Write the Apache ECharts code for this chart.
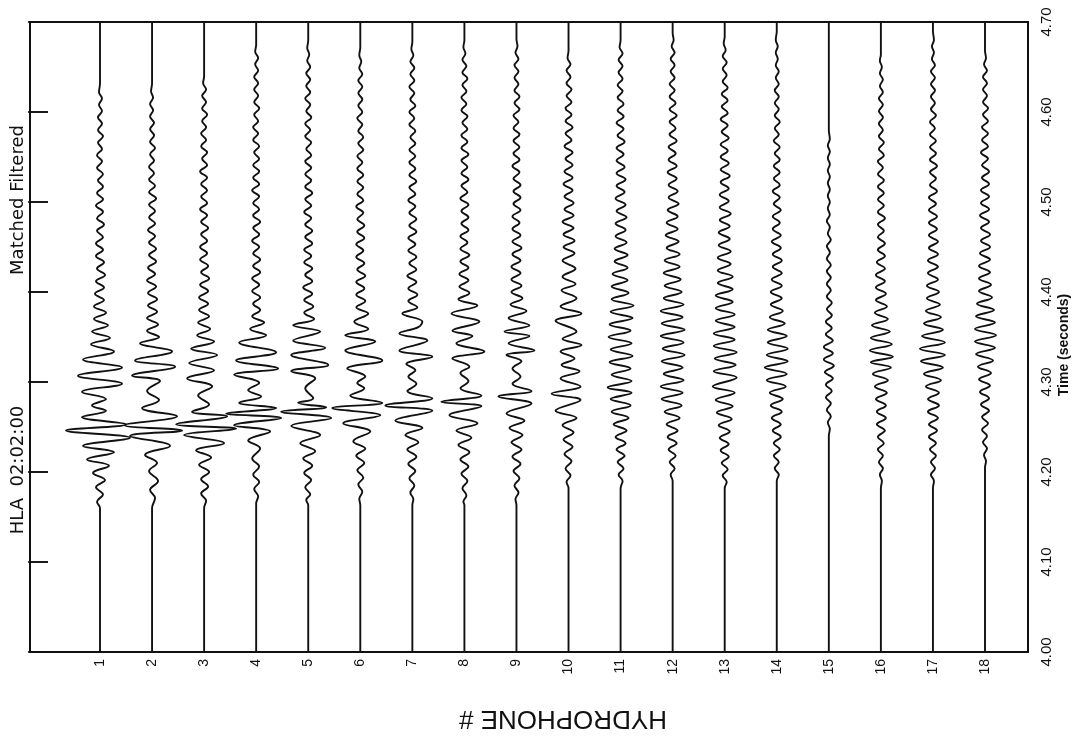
<!DOCTYPE html>
<html><head><meta charset="utf-8">
<script src="https://cdn.jsdelivr.net/npm/echarts@6/dist/echarts.min.js"></script>
<style>html,body{margin:0;padding:0;background:#fff}#c{width:1075px;height:736px}</style>
</head><body><div id="c"></div>
<script>
// Hydrophone numbers (trace positions)
const hydrophones = [1,2,3,4,5,6,7,8,9,10,11,12,13,14,15,16,17,18];
// Time axis (seconds)
const timeMin = 4.00, timeMax = 4.70, timeStep = 0.10;
// Each trace: flat list of [ms after 4.000 s, deflection] read at the wiggle extrema
const trace1 = [160,0, 167,-3, 175,3, 183,-4, 191,5, 199,-7, 207,9, 214,-13, 222,14, 229,-17, 238,30, 246,-34, 253,26, 261,-18, 268,6, 274,-8, 281,6, 289,-18, 298,22, 307,-22, 316,22, 325,-17, 334,14, 342,-9, 349,10, 356,-8, 363,8, 370,-6, 377,6, 384,-6, 391,4, 398,-5, 405,4, 412,-4, 419,5, 426,-3, 433,4, 440,-4, 447,3, 454,-4, 461,3, 468,-3, 475,4, 482,-3, 489,3, 496,-4, 503,3, 510,-3, 517,3, 524,-2, 531,3, 538,-3, 545,2, 552,-3, 559,2, 566,-2, 573,3, 580,-2, 587,2, 594,-2, 601,2, 608,-1, 615,2, 622,-1, 632,0];
const trace2 = [160,0, 171,3, 180,-2, 190,6, 201,-3, 210,5, 219,-7, 229,18, 240,-22, 246,30, 252,-27, 262,25, 271,-10, 280,7, 290,-5, 301,8, 307,-20, 317,23, 324,-17, 334,20, 343,-12, 350,7, 357,-5, 364,6, 371,-5, 378,5, 385,-4, 392,5, 399,-4, 406,4, 413,-5, 420,3, 427,-4, 434,4, 441,-3, 448,4, 455,-3, 462,3, 469,-4, 476,3, 483,-3, 490,3, 497,-3, 504,4, 511,-3, 518,3, 525,-3, 532,2, 539,-3, 546,2, 553,-2, 560,3, 567,-2, 574,2, 581,-2, 588,2, 595,-2, 602,1, 609,-2, 616,1, 623,-1, 632,0];
const trace3 = [160,0, 168,2, 176,-3, 184,4, 192,-3, 200,5, 208,-5, 216,7, 224,-8, 232,20, 241,-20, 248,32, 253,-28, 262,23, 267,-12, 275,5, 285,-6, 295,8, 304,-17, 313,10, 321,-15, 330,13, 337,-13, 345,10, 352,-7, 359,6, 366,-6, 373,5, 380,-5, 387,4, 394,-5, 401,4, 408,-4, 415,5, 422,-3, 429,4, 436,-4, 443,3, 450,-4, 457,3, 464,-3, 471,4, 478,-3, 485,3, 492,-4, 499,3, 506,-3, 513,3, 520,-3, 527,3, 534,-4, 541,3, 548,-2, 555,3, 562,-3, 569,2, 576,-3, 583,2, 590,-2, 597,3, 604,-2, 611,2, 618,-2, 625,2, 632,-1, 640,0];
const trace4 = [165,0, 173,2, 181,-2, 189,3, 197,-3, 206,3, 215,-4, 226,4, 235,-8, 245,14, 252,-22, 260,25, 265,-30, 271,20, 277,-17, 284,5, 291,-8, 299,3, 308,-22, 315,22, 324,-20, 333,20, 344,-17, 352,10, 359,-6, 366,8, 373,-4, 380,4, 387,-3, 394,4, 401,-4, 408,3, 415,-4, 422,4, 429,-3, 436,4, 443,-3, 450,3, 457,-4, 464,3, 471,-3, 478,4, 485,-3, 492,3, 499,-3, 506,3, 513,-4, 520,3, 527,-3, 534,3, 541,-3, 548,3, 555,-2, 562,3, 569,-3, 576,2, 583,-3, 590,2, 597,-2, 604,3, 611,-2, 618,2, 625,-2, 632,2, 639,-2, 646,2, 653,-1, 660,2, 667,-1, 675,0];
const trace5 = [163,0, 169,-2, 175,2, 183,-3, 191,3, 199,-4, 207,4, 215,-5, 223,7, 232,-8, 241,12, 251,-17, 260,23, 267,-27, 272,18, 277,-10, 282,5, 293,-3, 304,7, 312,-17, 319,20, 330,-17, 338,17, 346,-15, 356,12, 363,-15, 370,6, 377,-4, 384,5, 391,-4, 398,4, 405,-5, 412,4, 419,-3, 426,4, 433,-4, 440,3, 447,-4, 454,4, 461,-3, 468,4, 475,-3, 482,3, 489,-4, 496,3, 503,-3, 510,4, 517,-3, 524,3, 531,-3, 538,3, 545,-3, 552,3, 559,-2, 566,3, 573,-3, 580,2, 587,-3, 594,3, 601,-2, 608,2, 615,-3, 622,2, 629,-2, 636,2, 643,-2, 650,2, 657,-1, 664,1, 671,-1, 680,0];
const trace6 = [163,0, 170,-1, 178,2, 186,-2, 194,3, 202,-3, 210,4, 218,-4, 226,5, 234,-7, 245,10, 254,-17, 263,20, 271,-28, 277,22, 285,-10, 293,4, 299,-3, 306,5, 315,-13, 324,22, 335,-15, 345,15, 352,-15, 359,8, 367,-6, 376,8, 383,-4, 390,5, 397,-4, 404,4, 411,-4, 418,5, 425,-3, 432,4, 439,-4, 446,3, 453,-4, 460,4, 467,-3, 474,4, 481,-3, 488,3, 495,-4, 502,3, 509,-3, 516,3, 523,-3, 530,3, 537,-3, 544,2, 551,-3, 558,3, 565,-2, 572,3, 579,-2, 586,2, 593,-3, 600,2, 607,-2, 614,2, 621,-2, 628,2, 635,-2, 642,2, 649,-1, 656,1, 663,-1, 672,0];
const trace7 = [163,0, 170,1, 177,-2, 185,2, 193,-3, 201,3, 209,-4, 217,4, 225,-5, 233,6, 241,-7, 249,10, 257,-17, 268,20, 274,-27, 282,20, 290,-5, 298,4, 306,-4, 313,3, 320,-6, 328,20, 335,-13, 346,15, 354,-13, 361,6, 367,10, 376,-10, 383,5, 390,-4, 397,5, 404,-4, 411,4, 418,-5, 425,4, 432,-3, 439,4, 446,-4, 453,3, 460,-4, 467,4, 474,-3, 481,4, 488,-3, 495,3, 502,-4, 509,3, 516,-3, 523,4, 530,-3, 537,3, 544,-3, 551,3, 558,-3, 565,3, 572,-2, 579,3, 586,-3, 593,2, 600,-3, 607,3, 614,-2, 621,2, 628,-3, 635,2, 642,-2, 649,2, 656,-2, 663,1, 670,-1, 678,0];
const trace8 = [163,0, 167,-1, 174,2, 182,-2, 190,3, 198,-3, 206,4, 214,-4, 222,5, 230,-6, 238,7, 246,-8, 254,13, 263,-15, 273,17, 278,-23, 285,17, 293,-4, 301,4, 310,-4, 317,5, 326,-12, 334,20, 343,-8, 351,8, 357,-12, 367,15, 376,-13, 385,13, 392,-6, 399,5, 406,-5, 413,4, 420,-5, 427,4, 434,-4, 441,5, 448,-4, 455,3, 462,-4, 469,4, 476,-3, 483,4, 490,-3, 497,4, 504,-4, 511,3, 518,-3, 525,4, 532,-3, 539,3, 546,-3, 553,4, 560,-3, 567,3, 574,-3, 581,3, 588,-2, 595,3, 602,-3, 609,2, 616,-3, 623,2, 630,-2, 637,3, 644,-2, 651,2, 658,-2, 665,1, 672,-1, 680,0];
const trace9 = [163,0, 170,-1, 177,2, 185,-2, 193,3, 201,-3, 209,4, 217,-4, 225,5, 233,-5, 241,6, 249,-7, 257,8, 265,-10, 276,15, 284,-18, 290,15, 298,-4, 306,4, 315,-4, 323,5, 330,-10, 335,18, 343,-8, 351,13, 356,-12, 363,13, 371,-8, 379,10, 386,-6, 393,6, 400,-5, 407,5, 414,-5, 421,4, 428,-5, 435,4, 442,-4, 449,5, 456,-4, 463,4, 470,-4, 477,3, 484,-4, 491,4, 498,-3, 505,4, 512,-3, 519,4, 526,-3, 533,3, 540,-4, 547,3, 554,-3, 561,3, 568,-3, 575,3, 582,-3, 589,2, 596,-3, 603,3, 610,-2, 617,3, 624,-2, 631,2, 638,-2, 645,2, 652,-2, 659,2, 666,-1, 673,1, 681,0];
const trace10 = [182,0, 189,-2, 196,2, 204,-3, 212,3, 220,-4, 228,4, 236,-5, 244,5, 252,-6, 260,8, 268,-13, 280,12, 287,-17, 295,12, 304,-8, 312,11, 319,-7, 326,6, 334,-8, 341,13, 348,-6, 356,8, 368,-13, 376,13, 384,-8, 393,8, 402,-7, 409,7, 417,-6, 426,7, 435,-6, 443,6, 450,-5, 457,6, 464,-5, 471,5, 478,-6, 485,5, 492,-4, 499,5, 506,-4, 513,4, 520,-5, 527,4, 534,-4, 541,4, 548,-3, 555,4, 562,-4, 569,3, 576,-3, 583,4, 590,-3, 597,3, 604,-3, 611,3, 618,-2, 625,3, 632,-2, 639,2, 646,-2, 653,2, 660,-1, 668,0];
const trace11 = [182,0, 190,2, 197,-2, 204,3, 211,-3, 218,4, 225,-4, 232,5, 239,-5, 246,6, 253,-7, 260,8, 267,-9, 274,10, 281,-10, 288,11, 294,-13, 301,11, 308,-9, 315,10, 322,-11, 329,12, 336,-10, 343,11, 350,-12, 357,10, 364,-11, 371,12, 378,-10, 385,13, 392,-9, 399,8, 406,-9, 413,7, 420,-8, 427,7, 434,-6, 441,7, 448,-6, 455,6, 462,-5, 469,5, 476,-5, 483,6, 490,-4, 497,5, 504,-5, 511,4, 518,-4, 525,5, 532,-4, 539,4, 546,-4, 553,3, 560,-4, 567,4, 574,-3, 581,3, 588,-4, 595,3, 602,-3, 609,3, 616,-3, 623,2, 630,-3, 637,2, 644,-2, 651,2, 658,-2, 665,2, 672,-1, 680,0];
const trace12 = [190,0, 197,-2, 204,2, 211,-3, 218,3, 225,-4, 232,4, 239,-5, 246,5, 253,-6, 260,7, 267,-8, 274,9, 281,-11, 288,10, 295,-12, 302,11, 309,-9, 316,10, 323,-11, 330,12, 337,-10, 344,11, 351,-12, 358,12, 365,-11, 372,10, 379,-12, 386,11, 393,-9, 400,9, 407,-8, 414,8, 421,-9, 428,7, 435,-8, 442,7, 449,-6, 456,6, 463,-7, 470,5, 477,-6, 484,5, 491,-5, 498,6, 505,-4, 512,5, 519,-4, 526,4, 533,-5, 540,4, 547,-4, 554,3, 561,-4, 568,4, 575,-3, 582,3, 589,-3, 596,4, 603,-3, 610,3, 617,-3, 624,2, 631,-3, 638,2, 645,-2, 652,2, 659,-2, 666,2, 673,-1, 680,1, 688,0];
const trace13 = [182,0, 189,2, 196,-2, 203,3, 210,-3, 217,4, 224,-4, 231,4, 238,-5, 245,5, 252,-6, 259,7, 266,-8, 273,8, 280,-9, 288,10, 295,-12, 305,12, 312,-11, 319,11, 326,-10, 333,12, 340,-11, 347,10, 354,-11, 361,10, 368,-9, 375,10, 382,-9, 389,8, 396,-9, 403,8, 410,-7, 417,8, 424,-7, 431,6, 438,-7, 445,6, 452,-6, 459,5, 466,-6, 473,5, 480,-5, 487,6, 494,-5, 501,4, 508,-5, 515,4, 522,-4, 529,5, 536,-4, 543,4, 550,-4, 557,3, 564,-4, 571,4, 578,-3, 585,3, 592,-4, 599,3, 606,-3, 613,3, 620,-3, 627,3, 634,-2, 641,2, 648,-2, 655,2, 662,-2, 669,1, 676,-1, 684,0];
const trace14 = [190,0, 197,2, 204,-2, 211,2, 218,-3, 225,3, 232,-3, 239,4, 246,-4, 253,4, 260,-5, 267,5, 274,-6, 281,6, 288,-7, 295,9, 302,-10, 309,10, 316,-12, 323,11, 330,-10, 337,11, 344,-9, 351,10, 358,-9, 365,8, 372,-7, 379,6, 386,-6, 393,5, 400,-6, 407,5, 414,-5, 421,5, 428,-4, 435,5, 442,-4, 449,4, 456,-5, 463,4, 470,-4, 477,3, 484,-4, 491,4, 498,-3, 505,3, 512,-4, 519,3, 526,-3, 533,3, 540,-3, 547,3, 554,-2, 561,3, 568,-3, 575,2, 582,-2, 589,3, 596,-2, 603,2, 610,-2, 617,2, 624,-2, 631,2, 638,-1, 645,2, 652,-1, 659,1, 666,-1, 673,1, 680,-1, 690,0];
const trace15 = [240,0, 248,1, 255,-1, 262,2, 269,-2, 276,2, 283,-3, 290,3, 297,-3, 304,4, 311,-4, 318,5, 325,-5, 332,4, 339,-5, 346,4, 353,-3, 360,3, 367,-3, 374,3, 381,-2, 388,3, 395,-2, 402,2, 409,-2, 416,2, 423,-2, 430,2, 437,-2, 444,1, 451,-2, 458,2, 465,-1, 472,1, 479,-2, 486,1, 493,-1, 500,1, 507,-1, 514,1, 521,-1, 528,1, 535,-1, 542,1, 549,-1, 556,1, 563,-1, 570,1, 580,0];
const trace16 = [182,0, 190,1, 197,-1, 204,2, 211,-2, 218,2, 225,-3, 232,3, 239,-3, 246,4, 253,-4, 260,5, 267,-4, 274,5, 281,-5, 288,6, 295,-6, 302,7, 309,-8, 316,10, 322,-10, 328,12, 335,-11, 342,11, 349,-10, 356,9, 363,-9, 370,7, 377,-6, 384,6, 391,-5, 398,5, 405,-5, 412,4, 419,-5, 426,4, 433,-4, 440,4, 447,-3, 454,4, 461,-3, 468,3, 475,-3, 482,4, 489,-3, 496,3, 503,-3, 510,3, 517,-3, 524,3, 531,-3, 538,2, 545,-3, 552,3, 559,-2, 566,3, 573,-2, 580,2, 587,-2, 594,2, 601,-2, 608,2, 615,-2, 622,2, 629,-1, 636,2, 643,-1, 650,1, 657,-1, 664,0];
const trace17 = [182,0, 190,1, 197,-2, 204,2, 211,-2, 218,3, 225,-3, 232,3, 239,-4, 246,4, 253,-4, 260,5, 267,-5, 274,6, 281,-5, 288,6, 295,-7, 302,8, 309,-9, 316,10, 323,-12, 330,12, 337,-13, 344,12, 351,-11, 358,10, 365,-9, 372,8, 379,-7, 386,7, 393,-6, 400,6, 407,-6, 414,5, 421,-5, 428,5, 435,-5, 442,5, 449,-4, 456,5, 463,-4, 470,4, 477,-4, 484,4, 491,-4, 498,3, 505,-4, 512,4, 519,-3, 526,3, 533,-3, 540,4, 547,-3, 554,3, 561,-3, 568,3, 575,-3, 582,2, 589,-3, 596,3, 603,-2, 610,2, 617,-2, 624,2, 631,-2, 638,2, 645,-2, 652,2, 659,-1, 666,1, 673,-1, 680,1, 690,0];
const trace18 = [205,0, 212,1, 219,-1, 226,2, 233,-2, 240,2, 247,-3, 254,3, 261,-3, 268,4, 275,-4, 282,4, 289,-5, 296,5, 303,-6, 310,6, 317,-7, 324,8, 331,-9, 338,10, 345,-10, 352,11, 359,-10, 366,10, 373,-9, 380,9, 387,-8, 394,7, 401,-6, 408,6, 415,-6, 422,5, 429,-6, 436,5, 443,-5, 450,5, 457,-4, 464,5, 471,-4, 478,4, 485,-5, 492,4, 499,-4, 506,4, 513,-4, 520,4, 527,-3, 534,4, 541,-3, 548,3, 555,-4, 562,3, 569,-3, 576,3, 583,-3, 590,3, 597,-2, 604,3, 611,-2, 618,2, 625,-2, 632,2, 639,-2, 646,2, 653,-1, 660,1, 668,0];
const traces = [trace1,trace2,trace3,trace4,trace5,trace6,trace7,trace8,trace9,trace10,trace11,trace12,trace13,trace14,trace15,trace16,trace17,trace18];
// deflection units per one hydrophone spacing
const GAIN = 52;

const series = traces.map((tr, i) => {
  const k = hydrophones[i];
  const data = [[k, timeMin]];
  for (let j = 0; j < tr.length; j += 2) data.push([k + tr[j + 1] / GAIN, 4 + tr[j] / 1000]);
  data.push([k, timeMax]);
  return {type: 'line', data, smooth: 0.4, showSymbol: false, silent: true,
          lineStyle: {color: '#111', width: 1.9}};
});

const chart = echarts.init(document.getElementById('c'));
chart.setOption({
  animation: false,
  backgroundColor: '#fff',
  grid: {left: 30, right: 47, top: 22, bottom: 84, show: true, borderColor: '#111', borderWidth: 2},
  xAxis: {
    type: 'value', min: -0.3446, max: 18.826,
    axisLine: {show: false}, axisTick: {show: false}, splitLine: {show: false},
    axisLabel: {customValues: hydrophones, rotate: 90, margin: 7, fontSize: 14,
                color: '#111', fontFamily: 'Liberation Sans', formatter: v => String(v)}
  },
  yAxis: [{
    type: 'value', position: 'right', min: timeMin, max: timeMax, interval: timeStep,
    axisLine: {show: false}, splitLine: {show: false},
    axisTick: {inside: true, length: 20, lineStyle: {color: '#111', width: 1.6}},
    axisLabel: {rotate: 90, margin: 11, fontSize: 15, color: '#111', fontFamily: 'Liberation Sans',
                formatter: v => v.toFixed(2)}
  }, {
    type: 'value', position: 'left', min: timeMin, max: timeMax, interval: timeStep,
    axisLine: {show: false}, splitLine: {show: false}, axisLabel: {show: false},
    axisTick: {inside: true, length: 18, lineStyle: {color: '#111', width: 1.6}}
  }],
  graphic: [
    {type: 'text', x: 18, y: 200, rotation: Math.PI / 2,
     style: {text: 'Matched Filtered', font: '18px "DejaVu Sans"', fill: '#111', align: 'center', verticalAlign: 'middle'}},
    {type: 'text', x: 18, y: 470, rotation: Math.PI / 2,
     style: {text: 'HLA  02:02:00', font: '18px "DejaVu Sans"', fill: '#111', align: 'center', verticalAlign: 'middle'}},
    {type: 'text', x: 1064, y: 345, rotation: Math.PI / 2,
     style: {text: 'Time (seconds)', font: 'bold 14px "Liberation Sans"', fill: '#111', align: 'center', verticalAlign: 'middle'}},
    {type: 'text', x: 563, y: 718, rotation: Math.PI,
     style: {text: 'HYDROPHONE #', font: '26px "Liberation Sans"', fill: '#111', align: 'center', verticalAlign: 'middle'}}
  ],
  series
});
</script></body></html>
